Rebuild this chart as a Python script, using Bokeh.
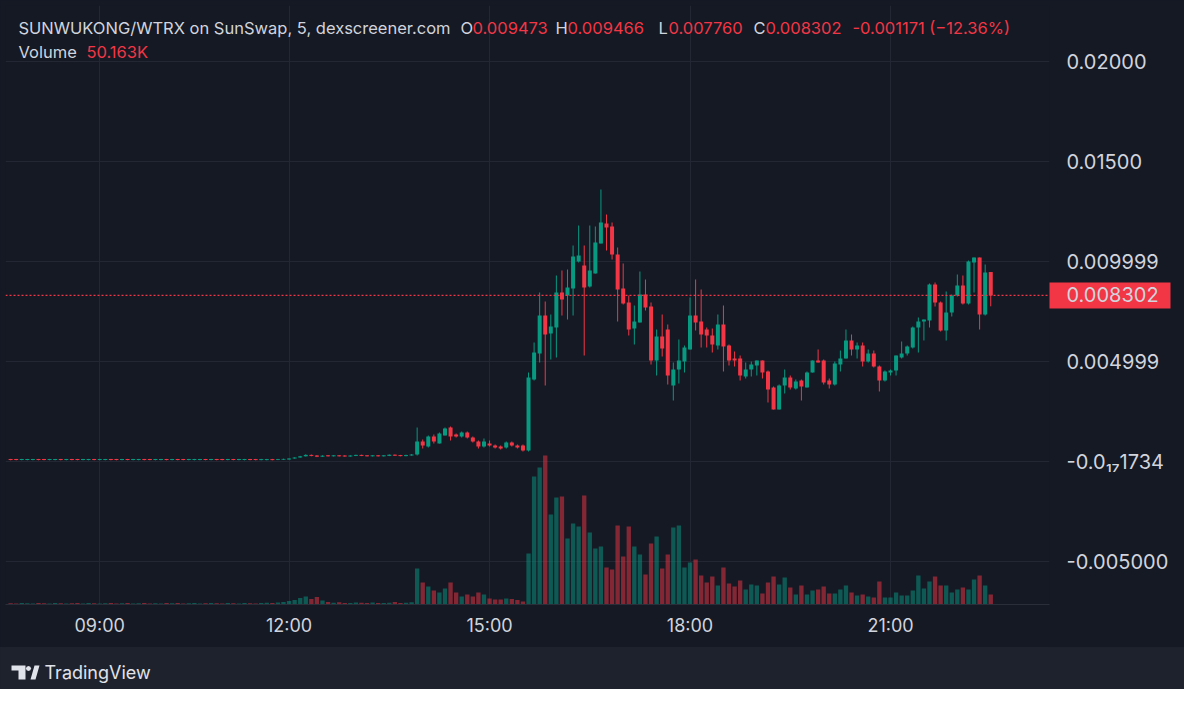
from bokeh.plotting import figure
from bokeh.models import Range1d, FixedTicker, Span, Label, ColumnDataSource, PolyAnnotation
from bokeh.layouts import column
from bokeh.embed import file_html
from bokeh.resources import INLINE

# ---------------- data (5-minute bars) ----------------
opens = [
 0.00012, 0.00012, 0.00007, 0.00007, 0.00007, 0.00012, 0.00012, 0.00007, 0.00007, 0.00012,
 0.00007, 0.00012, 0.00012, 0.00007, 0.00007, 0.00012, 0.00007, 0.00007, 0.00012, 0.00012,
 0.00007, 0.00012, 0.00007, 0.00007, 0.00012, 0.00012, 0.00007, 0.00007, 0.00012, 0.00007,
 0.00012, 0.00012, 0.00007, 0.00007, 0.00007, 0.00012, 0.00007, 0.00012, 0.00012, 0.00007,
 0.00012, 0.00007, 0.00007, 0.00012, 0.00012, 0.00007, 0.00007, 0.00012, 0.00008, 0.00009,
 0.00010, 0.00015, 0.00020, 0.00026, 0.00033, 0.00030, 0.00024, 0.00031, 0.00026, 0.00031,
 0.00030, 0.00025, 0.00028, 0.00033, 0.00031, 0.00026, 0.00031, 0.00026, 0.00028, 0.00034,
 0.00032, 0.00027, 0.00030, 0.00035, 0.00100, 0.00075, 0.00125, 0.00090, 0.00130, 0.00170,
 0.00135, 0.00125, 0.00145, 0.00120, 0.00100, 0.00075, 0.00090, 0.00080, 0.00075, 0.00070,
 0.00095, 0.00080, 0.00080, 0.00055, 0.00410, 0.00540, 0.00730, 0.00640, 0.00670, 0.00845,
 0.00830, 0.00865, 0.01000, 0.00980, 0.00875, 0.00940, 0.01090, 0.01190, 0.01175, 0.01035,
 0.00865, 0.00795, 0.00665, 0.00695, 0.00835, 0.00775, 0.00505, 0.00625, 0.00660, 0.00380,
 0.00460, 0.00500, 0.00560, 0.00730, 0.00700, 0.00660, 0.00630, 0.00580, 0.00685, 0.00580,
 0.00515, 0.00515, 0.00425, 0.00460, 0.00480, 0.00505, 0.00450, 0.00370, 0.00260, 0.00380,
 0.00420, 0.00365, 0.00405, 0.00370, 0.00445, 0.00505, 0.00505, 0.00405, 0.00385, 0.00485,
 0.00515, 0.00605, 0.00560, 0.00580, 0.00500, 0.00540, 0.00475, 0.00405, 0.00445, 0.00455,
 0.00520, 0.00540, 0.00570, 0.00670, 0.00700, 0.00705, 0.00885, 0.00795, 0.00655, 0.00745,
 0.00830, 0.00880, 0.00790, 0.00995, 0.01020, 0.00735, 0.009473,
]
highs = [
 0.00013, 0.00013, 0.00013, 0.00013, 0.00013, 0.00013, 0.00013, 0.00013, 0.00013, 0.00013,
 0.00013, 0.00013, 0.00013, 0.00013, 0.00013, 0.00013, 0.00013, 0.00013, 0.00013, 0.00013,
 0.00013, 0.00013, 0.00013, 0.00013, 0.00013, 0.00013, 0.00013, 0.00013, 0.00013, 0.00013,
 0.00013, 0.00013, 0.00013, 0.00013, 0.00013, 0.00013, 0.00013, 0.00013, 0.00013, 0.00013,
 0.00013, 0.00013, 0.00013, 0.00013, 0.00013, 0.00013, 0.00013, 0.00013, 0.00013, 0.00014,
 0.00016, 0.00021, 0.00028, 0.00036, 0.00035, 0.00032, 0.00031, 0.00032, 0.00032, 0.00032,
 0.00031, 0.00031, 0.00034, 0.00034, 0.00032, 0.00032, 0.00032, 0.00032, 0.00035, 0.00035,
 0.00033, 0.00034, 0.00037, 0.00170, 0.00110, 0.00130, 0.00135, 0.00145, 0.00170, 0.00175,
 0.00140, 0.00150, 0.00150, 0.00125, 0.00105, 0.00115, 0.00105, 0.00085, 0.00080, 0.00100,
 0.00100, 0.00085, 0.00085, 0.00445, 0.00595, 0.00845, 0.00800, 0.00735, 0.00930, 0.00955,
 0.00960, 0.01080, 0.01180, 0.01080, 0.01180, 0.01175, 0.01360, 0.01235, 0.01195, 0.01070,
 0.00990, 0.00830, 0.00780, 0.00950, 0.00910, 0.00795, 0.00660, 0.00735, 0.00685, 0.00495,
 0.00610, 0.00580, 0.00820, 0.00910, 0.00860, 0.00670, 0.00665, 0.00735, 0.00780, 0.00585,
 0.00550, 0.00530, 0.00495, 0.00500, 0.00505, 0.00505, 0.00455, 0.00375, 0.00385, 0.00460,
 0.00430, 0.00410, 0.00410, 0.00450, 0.00505, 0.00560, 0.00510, 0.00415, 0.00500, 0.00555,
 0.00660, 0.00635, 0.00595, 0.00595, 0.00560, 0.00555, 0.00480, 0.00455, 0.00460, 0.00530,
 0.00600, 0.00580, 0.00675, 0.00720, 0.00710, 0.00890, 0.00895, 0.00800, 0.00850, 0.00835,
 0.00935, 0.00930, 0.01005, 0.01020, 0.01020, 0.00985, 0.009466,
]
lows = [
 0.00006, 0.00006, 0.00006, 0.00006, 0.00006, 0.00006, 0.00006, 0.00006, 0.00006, 0.00006,
 0.00006, 0.00006, 0.00006, 0.00006, 0.00006, 0.00006, 0.00006, 0.00006, 0.00006, 0.00006,
 0.00006, 0.00006, 0.00006, 0.00006, 0.00006, 0.00006, 0.00006, 0.00006, 0.00006, 0.00006,
 0.00006, 0.00006, 0.00006, 0.00006, 0.00006, 0.00006, 0.00006, 0.00006, 0.00006, 0.00006,
 0.00006, 0.00006, 0.00006, 0.00006, 0.00006, 0.00006, 0.00006, 0.00006, 0.00007, 0.00008,
 0.00009, 0.00014, 0.00019, 0.00025, 0.00026, 0.00022, 0.00023, 0.00025, 0.00025, 0.00025,
 0.00024, 0.00024, 0.00027, 0.00027, 0.00025, 0.00025, 0.00025, 0.00025, 0.00027, 0.00028,
 0.00026, 0.00026, 0.00029, 0.00030, 0.00065, 0.00070, 0.00090, 0.00090, 0.00130, 0.00105,
 0.00120, 0.00120, 0.00115, 0.00095, 0.00065, 0.00070, 0.00075, 0.00065, 0.00060, 0.00065,
 0.00075, 0.00065, 0.00050, 0.00050, 0.00405, 0.00495, 0.00380, 0.00510, 0.00520, 0.00730,
 0.00710, 0.00730, 0.00995, 0.00530, 0.00870, 0.00940, 0.01090, 0.01055, 0.01010, 0.00700,
 0.00785, 0.00630, 0.00585, 0.00695, 0.00755, 0.00485, 0.00430, 0.00525, 0.00385, 0.00305,
 0.00390, 0.00445, 0.00560, 0.00655, 0.00570, 0.00570, 0.00545, 0.00560, 0.00450, 0.00480,
 0.00475, 0.00405, 0.00415, 0.00425, 0.00430, 0.00415, 0.00295, 0.00260, 0.00260, 0.00340,
 0.00360, 0.00360, 0.00305, 0.00370, 0.00445, 0.00495, 0.00385, 0.00365, 0.00380, 0.00450,
 0.00515, 0.00530, 0.00515, 0.00475, 0.00495, 0.00470, 0.00350, 0.00400, 0.00430, 0.00430,
 0.00515, 0.00530, 0.00565, 0.00545, 0.00605, 0.00670, 0.00775, 0.00650, 0.00605, 0.00725,
 0.00825, 0.00785, 0.00785, 0.00845, 0.00660, 0.00730, 0.00776,
]
closes = [
 0.00007, 0.00007, 0.00012, 0.00012, 0.00012, 0.00007, 0.00007, 0.00012, 0.00012, 0.00007,
 0.00012, 0.00007, 0.00007, 0.00012, 0.00012, 0.00007, 0.00012, 0.00012, 0.00007, 0.00007,
 0.00012, 0.00007, 0.00012, 0.00012, 0.00007, 0.00007, 0.00012, 0.00012, 0.00007, 0.00012,
 0.00007, 0.00007, 0.00012, 0.00012, 0.00012, 0.00007, 0.00012, 0.00007, 0.00007, 0.00012,
 0.00007, 0.00012, 0.00012, 0.00007, 0.00007, 0.00012, 0.00012, 0.00007, 0.00012, 0.00013,
 0.00015, 0.00020, 0.00026, 0.00033, 0.00028, 0.00024, 0.00029, 0.00026, 0.00031, 0.00026,
 0.00025, 0.00030, 0.00033, 0.00028, 0.00026, 0.00031, 0.00026, 0.00031, 0.00034, 0.00029,
 0.00027, 0.00032, 0.00035, 0.00100, 0.00080, 0.00125, 0.00100, 0.00140, 0.00165, 0.00125,
 0.00125, 0.00145, 0.00120, 0.00100, 0.00075, 0.00100, 0.00080, 0.00070, 0.00065, 0.00095,
 0.00080, 0.00070, 0.00055, 0.00420, 0.00545, 0.00730, 0.00635, 0.00675, 0.00845, 0.00810,
 0.00870, 0.01025, 0.01030, 0.00870, 0.00955, 0.01095, 0.01195, 0.01170, 0.01035, 0.00860,
 0.00790, 0.00660, 0.00700, 0.00835, 0.00770, 0.00505, 0.00625, 0.00565, 0.00430, 0.00460,
 0.00505, 0.00570, 0.00730, 0.00695, 0.00635, 0.00630, 0.00585, 0.00685, 0.00575, 0.00505,
 0.00505, 0.00430, 0.00460, 0.00485, 0.00505, 0.00445, 0.00360, 0.00260, 0.00380, 0.00420,
 0.00370, 0.00400, 0.00375, 0.00445, 0.00505, 0.00495, 0.00395, 0.00385, 0.00490, 0.00515,
 0.00605, 0.00560, 0.00580, 0.00500, 0.00540, 0.00475, 0.00405, 0.00450, 0.00455, 0.00530,
 0.00540, 0.00575, 0.00670, 0.00700, 0.00710, 0.00885, 0.00795, 0.00655, 0.00745, 0.00830,
 0.00880, 0.00790, 0.01000, 0.01020, 0.00735, 0.00945, 0.008302,
]
volumes_k = [
 6, 5, 7, 6, 5, 8, 6, 5, 7, 6,
 5, 6, 8, 5, 7, 6, 5, 6, 7, 5,
 6, 8, 5, 6, 7, 5, 6, 5, 8, 6,
 7, 5, 6, 8, 5, 6, 7, 6, 5, 8,
 6, 5, 7, 6, 5, 8, 9, 7, 10, 12,
 18, 22, 32, 40, 28, 38, 20, 12, 9, 11,
 8, 7, 10, 9, 7, 10, 8, 7, 9, 12,
 8, 9, 11, 180, 110, 90, 70, 60, 80, 110,
 60, 40, 50, 40, 60, 50, 30, 25, 25, 30,
 27, 22, 15, 255, 640, 685, 745, 450, 535, 540,
 330, 405, 390, 545, 360, 280, 290, 185, 175, 395,
 240, 390, 290, 250, 150, 305, 340, 180, 250, 385,
 395, 185, 210, 225, 145, 110, 140, 95, 185, 105,
 90, 120, 75, 100, 95, 55, 110, 140, 100, 135,
 85, 50, 95, 50, 70, 75, 90, 55, 55, 75,
 95, 60, 45, 50, 40, 35, 115, 35, 35, 60,
 45, 45, 70, 145, 80, 115, 140, 95, 95, 60,
 75, 85, 75, 125, 145, 95, 50.163,
]
time_tick_pos = [16, 50, 86, 122, 158]
time_tick_labels = ["09:00", "12:00", "15:00", "18:00", "21:00"]
price_tick_vals = [-0.005, 0.0, 0.005, 0.01, 0.015, 0.02]
price_tick_labels = ["-0.005000", "-0.0\u2081\u20871734", "0.004999", "0.009999", "0.01500", "0.02000"]

# ---------------- styling ----------------
BG = "#151924"
OUTER = "#1e222d"
GRID = "#232733"
TEXT = "#d1d4dc"
UP = "#089981"
DOWN = "#f23645"
FONT = "Inter"

X0, X1 = -0.92, 186.55
Y0, Y1 = -0.00715, 0.0228

n = len(opens)
idx = list(range(n))
colors = [UP if c >= o else DOWN for o, c in zip(opens, closes)]
src = ColumnDataSource(dict(
    i=idx, o=opens, h=highs, l=lows, c=closes,
    top=[max(o, c) for o, c in zip(opens, closes)],
    bot=[min(o, c) for o, c in zip(opens, closes)],
    vol=volumes_k, color=colors,
))

p = figure(width=1184, height=647,
           x_range=Range1d(X0, X1), y_range=Range1d(Y0, Y1),
           y_axis_location="right", output_backend="svg", toolbar_location=None,
           min_border_left=5, min_border_right=135, min_border_top=5, min_border_bottom=43,
           background_fill_color=BG, border_fill_color=BG, outline_line_color=None,
           styles={"background-color": BG})
p.extra_y_ranges = {"vol": Range1d(0, 2995)}

p.vbar(x="i", top="vol", bottom=0, width=0.78, y_range_name="vol",
       fill_color="color", fill_alpha=0.5, line_color=None, source=src)
p.segment(x0="i", y0="h", x1="i", y1="l", line_color="color", line_width=1, source=src)
p.vbar(x="i", top="top", bottom="bot", width=0.72, fill_color="color", line_color=None, source=src)

# last price line
p.add_layout(Span(location=closes[-1], dimension="width", line_color=DOWN,
                  line_dash="2 2", line_width=1.3))

# time axis & vertical grid
xt = FixedTicker(ticks=time_tick_pos)
p.xaxis.ticker = xt
p.xgrid.ticker = xt
p.xaxis.major_label_overrides = {k: v for k, v in zip(time_tick_pos, time_tick_labels)}

# price axis: regular price labels + the last-price tag (a thick red minor tick
# drawn outward at the last close, with the value as its label)
last = closes[-1]
p.yaxis.ticker = FixedTicker(ticks=price_tick_vals + [last], minor_ticks=[last])
p.ygrid.ticker = FixedTicker(ticks=price_tick_vals)
overrides = {k: v for k, v in zip(price_tick_vals, price_tick_labels)}
overrides[last] = f"{last:.6f}"
p.yaxis.major_label_overrides = overrides

for ax in (p.xaxis[0], p.yaxis[0]):
    ax.major_tick_line_color = None
    ax.major_tick_out = 0
    ax.major_tick_in = 0
    ax.major_label_text_font = FONT
    ax.major_label_text_color = TEXT
p.xaxis.minor_tick_line_color = None
p.xaxis.axis_line_color = "#2a2e39"
p.xaxis.major_label_text_font_size = "18px"
p.xaxis.major_label_standoff = 10
p.yaxis.axis_line_color = None
p.yaxis.major_label_text_font_size = "20px"
p.yaxis.major_label_standoff = 17
p.yaxis.minor_tick_line_color = DOWN
p.yaxis.minor_tick_line_width = 26
p.yaxis.minor_tick_out = 0
p.yaxis.minor_tick_in = -121
p.grid.grid_line_color = GRID
p.grid.grid_line_width = 1

# legend lines (screen coords relative to frame bottom-left)
chg = closes[-1] - opens[-1]
pct = chg / opens[-1] * 100
row1 = [
    ("SUNWUKONG/WTRX on SunSwap, 5, dexscreener.com", 13, TEXT),
    ("O", 455, TEXT), (f"{opens[-1]:.6f}", 467, DOWN),
    ("H", 550, TEXT), (f"{highs[-1]:.6f}", 562, DOWN),
    ("L", 653, TEXT), (f"{lows[-1]:.6f}", 663, DOWN),
    ("C", 748, TEXT), (f"{closes[-1]:.6f}", 760, DOWN),
    (f"{chg:.6f} (\u2212{abs(pct):.2f}%)", 847, DOWN),
]
for txt, xs, col in row1:
    p.add_layout(Label(x=xs, y=576.5, x_units="screen", y_units="screen", text=txt,
                       text_color=col, text_font=FONT, text_font_size="16.5px",
                       text_baseline="middle"))
p.add_layout(Label(x=13, y=553, x_units="screen", y_units="screen", text="Volume",
                   text_color=TEXT, text_font=FONT, text_font_size="16.5px", text_baseline="middle"))
p.add_layout(Label(x=81, y=553, x_units="screen", y_units="screen",
                   text=f"{volumes_k[-1]:.3f}K", text_color=DOWN, text_font=FONT,
                   text_font_size="16.5px", text_baseline="middle"))

# footer with TradingView mark
f = figure(width=1184, height=42, x_range=Range1d(0, 1184), y_range=Range1d(0, 42),
           x_axis_location=None, y_axis_location=None, output_backend="svg",
           toolbar_location=None, min_border=0, background_fill_color=OUTER,
           border_fill_color=OUTER, outline_line_color=None,
           styles={"background-color": OUTER})
f.grid.visible = False
f.add_layout(PolyAnnotation(xs=[6, 20, 20, 13, 13, 6], ys=[24, 24, 10, 10, 19, 19],
                            xs_units="screen", ys_units="screen",
                            fill_color="#e1e3ea", fill_alpha=1, line_color=None))
f.add_layout(PolyAnnotation(xs=[25.6, 24.8, 23, 21.2, 20.4, 21.2, 23, 24.8],
                            ys=[21, 22.8, 23.6, 22.8, 21, 19.2, 18.4, 19.2],
                            xs_units="screen", ys_units="screen",
                            fill_color="#e1e3ea", fill_alpha=1, line_color=None))
f.add_layout(PolyAnnotation(xs=[25, 30, 34, 29], ys=[10, 10, 24, 24],
                            xs_units="screen", ys_units="screen",
                            fill_color="#e1e3ea", fill_alpha=1, line_color=None))
f.add_layout(Label(x=39, y=17, x_units="screen", y_units="screen", text="TradingView",
                   text_color="#e1e3ea", text_font=FONT, text_font_size="18px",
                   text_baseline="middle"))

layout = column(p, f, spacing=0, styles={"background-color": BG})
open("out.html", "w").write(file_html(layout, INLINE))
